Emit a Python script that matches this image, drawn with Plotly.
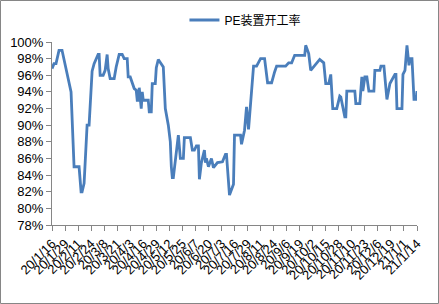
import pandas as pd
import plotly.graph_objects as go

START = "2020-01-16"
DAY_OFFSET = [0, 2, 4, 7, 10, 19, 22, 27, 29, 30, 32, 35, 37, 40, 42, 46, 47, 48, 51, 53,
              55, 56, 58, 62, 64, 65, 67, 70, 72, 75, 76, 78, 80, 82, 84, 85, 86, 87, 89, 90,
              91, 96, 97, 99, 100, 103, 104, 106, 111, 113, 116, 118, 119, 120, 121, 123, 124,
              126, 128, 131, 132, 138, 140, 142, 144, 146, 147, 149, 152, 153, 154, 156, 159,
              161, 165, 170, 173, 174, 177, 178, 181, 182, 188, 189, 192, 194, 196, 201, 204,
              208, 212, 215, 219, 222, 224, 233, 236, 239, 242, 252, 253, 256, 258, 267, 271,
              273, 276, 278, 280, 284, 287, 288, 292, 293, 294, 302, 303, 307, 309, 310, 312,
              314, 316, 321, 322, 327, 328, 331, 334, 337, 342, 343, 344, 349, 350, 352, 354,
              356, 357, 359, 361, 363, 364]
PE_RATE = [96.8, 97.4, 97.4, 99.0, 99.0, 94.0, 85.0, 85.0, 82.0, 82.0, 83.0, 90.0, 90.0, 96.5,
           97.4, 98.5, 98.5, 96.0, 96.0, 96.6, 98.5, 96.8, 95.6, 95.6, 97.0, 97.4, 98.5, 98.5,
           98.0, 98.0, 95.8, 95.8, 95.0, 94.4, 94.2, 93.0, 93.0, 94.5, 92.0, 94.0, 93.0, 93.0,
           91.6, 91.6, 95.0, 95.0, 96.9, 97.9, 97.0, 92.0, 90.0, 88.0, 85.0, 83.7, 83.7, 86.0,
           87.0, 88.8, 86.0, 86.0, 88.5, 88.5, 87.0, 87.0, 87.5, 87.5, 83.5, 85.5, 87.0, 85.5,
           86.0, 85.0, 86.0, 84.9, 85.5, 85.6, 86.5, 86.5, 81.6, 82.0, 82.9, 88.8, 88.8, 87.7,
           89.4, 92.2, 89.5, 97.1, 97.1, 98.0, 98.0, 95.1, 95.1, 96.4, 97.1, 97.1, 97.5, 97.5,
           98.4, 98.4, 99.6, 98.6, 96.6, 97.9, 97.5, 95.0, 95.0, 96.1, 92.0, 92.0, 93.5, 93.4,
           91.0, 91.0, 94.1, 94.1, 92.6, 92.6, 95.8, 94.1, 95.8, 95.8, 94.1, 94.1, 96.6, 96.6,
           97.1, 97.1, 93.1, 95.0, 96.1, 96.1, 92.0, 92.0, 96.1, 96.6, 99.6, 97.2, 98.0, 98.0,
           93.1, 93.1, 94.1]

TICK_OFFSET = list(range(0, 365, 13))
TICK_LABELS = ["20/1/16", "20/1/29", "20/2/11", "20/2/24", "20/3/8", "20/3/21", "20/4/3",
               "20/4/16", "20/4/29", "20/5/12", "20/5/25", "20/6/7", "20/6/20", "20/7/3",
               "20/7/16", "20/7/29", "20/8/11", "20/8/24", "20/9/6", "20/9/19", "20/10/2",
               "20/10/15", "20/10/28", "20/11/10", "20/11/23", "20/12/6", "20/12/19",
               "21/1/1", "21/1/14"]
Y_TICKS = list(range(78, 101, 2))
Y_LABELS = [f"{v}%" for v in Y_TICKS]

base = pd.Timestamp(START)
dates = [base + pd.Timedelta(days=d) for d in DAY_OFFSET]
tick_dates = [base + pd.Timedelta(days=d) for d in TICK_OFFSET]

fig = go.Figure()
fig.add_trace(go.Scatter(x=dates, y=PE_RATE, mode="lines", name="PE装置开工率",
                         line=dict(color="#4A7EBB", width=2.8)))

L, R, T, B = 52, 22, 42, 79
W, H = 439, 304
pw, ph = W - L - R, H - T - B

fig.update_layout(
    width=W, height=H,
    margin=dict(l=L, r=R, t=T, b=B, autoexpand=False),
    paper_bgcolor="white", plot_bgcolor="white",
    font=dict(family="Liberation Sans, Noto Sans CJK SC", size=13, color="#000"),
    showlegend=True,
    legend=dict(orientation="h", x=0.53, xanchor="center", y=(H - B - 20) / ph, yanchor="middle",
                font=dict(size=12, family="Liberation Sans, Noto Sans CJK SC"),
                bgcolor="rgba(0,0,0,0)", itemwidth=30),
    xaxis=dict(type="date", range=[tick_dates[0], tick_dates[-1]], automargin=False,
               tickmode="array", tickvals=tick_dates, ticktext=TICK_LABELS,
               tickangle=-45, ticks="outside", ticklen=5, tickcolor="#868686",
               showline=True, linecolor="#868686", linewidth=1, showgrid=False,
               zeroline=False, tickfont=dict(size=13)),
    yaxis=dict(range=[78, 100], tickmode="array", tickvals=Y_TICKS, ticktext=Y_LABELS,
               automargin=False,
               ticks="outside", ticklen=5, tickcolor="#868686",
               showline=True, linecolor="#868686", linewidth=1, showgrid=False,
               zeroline=False, tickfont=dict(size=13)),
    shapes=[dict(type="rect", xref="paper", yref="paper",
                 x0=-(L - 0.5) / pw, x1=(W - L - 0.5) / pw,
                 y0=-(B - 0.5) / ph, y1=(H - B - 0.5) / ph,
                 line=dict(color="#868686", width=1), fillcolor="rgba(0,0,0,0)")],
)

fig.write_html("out.html")
